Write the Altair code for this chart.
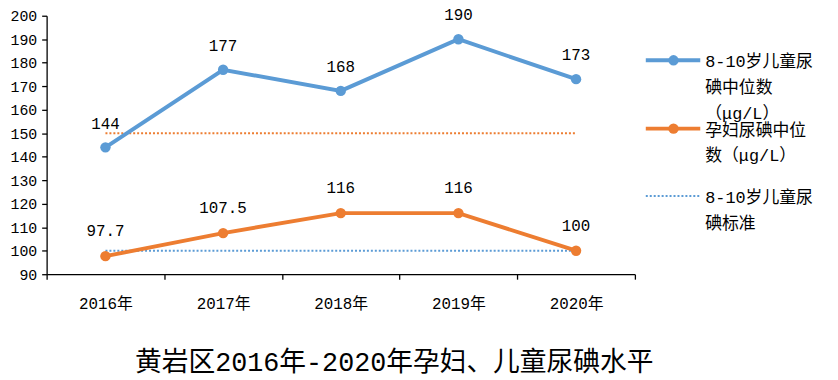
import altair as alt
import pandas as pd

years = ["2016年", "2017年", "2018年", "2019年", "2020年"]
children = [144, 177, 168, 190, 173]
children_labels = ["144", "177", "168", "190", "173"]
pregnant = [97.7, 107.5, 116, 116, 100]
pregnant_labels = ["97.7", "107.5", "116", "116", "100"]
std_children = [100, 100, 100, 100, 100]
std_pregnant = [150, 150, 150, 150, 150]
y_ticks = [90, 100, 110, 120, 130, 140, 150, 160, 170, 180, 190, 200]

legend_labels = [
    "8-10岁儿童尿\n碘中位数\n（μg/L）",
    "孕妇尿碘中位\n数（μg/L）",
    "8-10岁儿童尿\n碘标准",
]
title_text = "黄岩区2016年-2020年孕妇、儿童尿碘水平"

BLUE = "#5B9BD5"
ORANGE = "#ED7D31"
FONT = "Liberation Mono, Noto Sans CJK SC"

PAD_L = 39
PAD_T = 6

df_c = pd.DataFrame({"year": years, "value": children, "label": children_labels})
df_p = pd.DataFrame({"year": years, "value": pregnant, "label": pregnant_labels})
df_sc = pd.DataFrame({"year": years, "value": std_children})
df_sp = pd.DataFrame({"year": years, "value": std_pregnant})

x_enc = alt.X(
    "year:N",
    sort=years,
    bandPosition=0.5,
    scale=alt.Scale(type="band", paddingInner=0, paddingOuter=0),
    axis=alt.Axis(
        title=None, grid=False, tickBand="extent", tickSize=5, tickColor="black",
        domainColor="black", domainWidth=1.3, tickWidth=1.3, labelAngle=0,
        labelFont=FONT, labelFontSize=16, labelColor="black", labelPadding=17,
    ),
)
y_enc = alt.Y(
    "value:Q",
    scale=alt.Scale(domain=[90, 200], nice=False, zero=False),
    axis=alt.Axis(
        title=None, grid=False, values=y_ticks, tickSize=5, tickColor="black",
        domainColor="black", domainWidth=1.3, tickWidth=1.3,
        labelFont=FONT, labelFontSize=15, labelColor="black", labelPadding=5,
    ),
)

dot_sp = alt.Chart(df_sp).mark_line(color=ORANGE, strokeWidth=2, strokeDash=[2, 2]).encode(x=x_enc, y=y_enc)
dot_sc = alt.Chart(df_sc).mark_line(color=BLUE, strokeWidth=2, strokeDash=[2, 2]).encode(x=x_enc, y=y_enc)

line_c = alt.Chart(df_c).mark_line(color=BLUE, strokeWidth=4).encode(x=x_enc, y=y_enc)
pt_c = alt.Chart(df_c).mark_point(color=BLUE, filled=True, size=110, opacity=1).encode(x=x_enc, y=y_enc)
txt_c = alt.Chart(df_c).mark_text(font=FONT, fontSize=16, dy=-24, color="black").encode(x=x_enc, y=y_enc, text="label:N")

line_p = alt.Chart(df_p).mark_line(color=ORANGE, strokeWidth=4).encode(x=x_enc, y=y_enc)
pt_p = alt.Chart(df_p).mark_point(color=ORANGE, filled=True, size=110, opacity=1).encode(x=x_enc, y=y_enc)
txt_p = alt.Chart(df_p).mark_text(font=FONT, fontSize=16, dy=-25, color="black").encode(x=x_enc, y=y_enc, text="label:N")

# manual legend (page coordinates converted to plot coordinates)
OX = 8 + PAD_L
OY = 8 + PAD_T
one = pd.DataFrame({"k": [0]})
leg_layers = []
leg_sym_y = [59, 128, 196]
leg_colors = [BLUE, ORANGE, BLUE]
for i, lab in enumerate(legend_labels):
    sy = leg_sym_y[i] - OY
    if i < 2:
        leg_layers.append(alt.Chart(one).mark_rule(color=leg_colors[i], strokeWidth=4).encode(
            x=alt.value(652 - OX), x2=alt.value(707 - OX), y=alt.value(sy)))
        leg_layers.append(alt.Chart(one).mark_point(color=leg_colors[i], filled=True, size=110, opacity=1).encode(
            x=alt.value(680 - OX), y=alt.value(sy)))
    else:
        leg_layers.append(alt.Chart(one).mark_rule(color=leg_colors[i], strokeWidth=2, strokeDash=[2, 2]).encode(
            x=alt.value(652 - OX), x2=alt.value(707 - OX), y=alt.value(sy)))
    leg_layers.append(alt.Chart(pd.DataFrame({"t": [lab]})).mark_text(
        font=FONT, fontSize=17, align="left", baseline="top", lineBreak="\n", lineHeight=26, color="black"
    ).encode(x=alt.value(712 - OX), y=alt.value(sy - 6), text="t:N"))

title_layer = alt.Chart(pd.DataFrame({"t": [title_text]})).mark_text(
    font=FONT, fontSize=27, align="center", baseline="middle", color="black"
).encode(x=alt.value(398 - OX), y=alt.value(365 - OY), text="t:N")

W = 641 - OX
H = 275 - OY
chart = alt.layer(
    dot_sp, dot_sc, line_c, line_p, pt_c, pt_p, txt_c, txt_p, *leg_layers, title_layer
).properties(
    width=W, height=H,
    autosize=alt.AutoSizeParams(type="none"),
    padding={"left": PAD_L, "top": PAD_T, "right": 830 - PAD_L - W, "bottom": 372 - PAD_T - H},
    background="white",
).configure_view(stroke=None)

chart.save("out.html", embed_options={"renderer": "svg", "actions": False})
